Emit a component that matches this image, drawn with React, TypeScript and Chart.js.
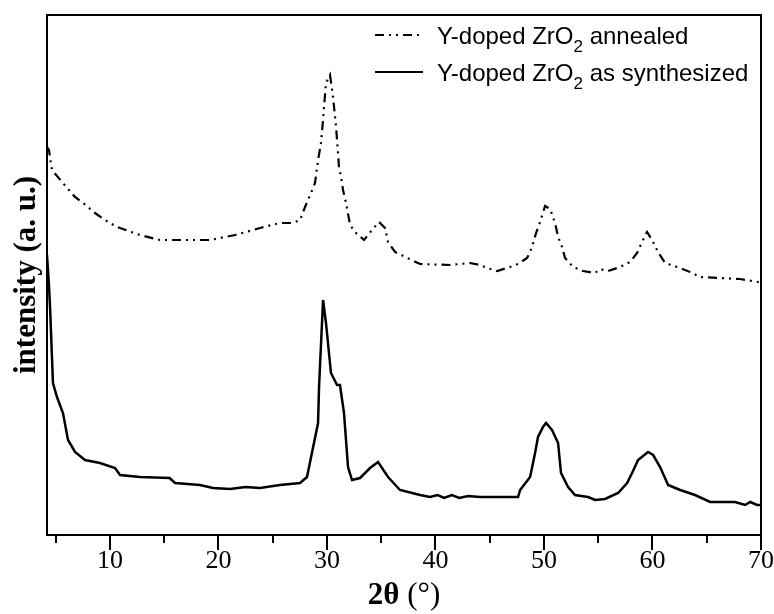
import { useEffect, useRef } from "react";
import { Chart, registerables } from "chart.js";

Chart.register(...registerables);

// ---- Data (2θ in degrees, intensity in arbitrary units) ----
const synthX = [4.2, 4.38, 4.48, 4.75, 5.12, 5.67, 6.14, 6.78, 7.7, 9.08, 10.47, 10.93, 12.77, 15.5, 16.0, 18.3, 19.5, 21.07, 22.5, 23.83, 25.67, 27.52, 28.16, 29.18, 29.27, 29.64, 29.91, 30.37, 30.93, 31.2, 31.57, 31.94, 32.31, 33.05, 33.97, 34.71, 35.63, 36.73, 38.58, 39.5, 40.2, 40.8, 41.5, 42.2, 43.0, 44.11, 45.5, 47.61, 47.8, 48.72, 49.18, 49.45, 49.91, 50.19, 50.74, 51.3, 51.57, 52.22, 52.86, 54.06, 54.71, 55.63, 56.83, 57.66, 58.12, 58.67, 59.59, 60.06, 60.7, 61.44, 62.55, 63.92, 65.31, 67.61, 68.53, 69.0, 69.64, 70.0];
const synthY = [280, 250, 228, 152, 138, 122, 95, 83, 75, 72, 67, 60, 58, 57, 52, 50, 47, 46, 48, 47, 50, 52, 58, 112, 148, 235, 212, 162, 150, 150, 122, 68, 55, 57, 67, 73, 58, 45, 40, 38, 40, 37, 40, 37, 39, 38, 38, 38, 45, 58, 82, 98, 108, 112, 105, 92, 62, 48, 40, 38, 35, 36, 42, 52, 62, 75, 83, 80, 68, 50, 45, 40, 33, 33, 30, 33, 30, 30];

const annealX = [4.2, 4.38, 4.66, 5.67, 6.78, 7.52, 8.62, 9.55, 10.65, 12.77, 14.61, 16.92, 19.22, 21.53, 23.83, 25.67, 26.87, 27.52, 27.98, 28.53, 28.9, 29.18, 29.45, 29.64, 29.73, 29.91, 30.28, 30.56, 30.84, 31.02, 31.11, 31.3, 31.48, 31.76, 32.13, 32.68, 33.42, 34.15, 34.8, 35.35, 35.63, 36.27, 38.58, 41.34, 43.19, 44.11, 44.75, 45.68, 46.87, 47.61, 48.44, 48.72, 49.0, 49.27, 49.64, 50.1, 50.56, 51.02, 51.3, 51.67, 51.94, 52.68, 53.6, 54.71, 55.17, 55.91, 57.01, 57.93, 58.58, 59.04, 59.5, 59.96, 60.51, 61.16, 62.27, 63.46, 64.38, 66.23, 68.07, 69.73, 70.0];
const annealY = [388, 385, 365, 352, 338, 332, 322, 315, 308, 300, 295, 295, 295, 300, 307, 312, 312, 315, 328, 342, 352, 375, 392, 415, 428, 452, 460, 438, 408, 382, 368, 358, 345, 332, 310, 302, 295, 305, 313, 307, 293, 283, 271, 270, 272, 270, 267, 264, 268, 271, 277, 283, 292, 302, 313, 329, 326, 312, 298, 288, 277, 268, 264, 262, 266, 264, 268, 273, 282, 293, 303, 295, 283, 272, 268, 263, 258, 257, 256, 253, 253];

const xTickLabels = [10, 20, 30, 40, 50, 60, 70];
const xMinorTicks = [5, 15, 25, 35, 45, 55, 65];
const seriesNames = ["annealed", "as synthesized"];
const legendPrefix = "Y-doped ZrO";
const legendSub = "2";
const xTitleBold = "2θ";
const xTitleRest = " (°)";
const yTitle = "intensity (a. u.)";

const ANNEAL_DASH = [9, 5, 2, 5, 2, 5];

const decorPlugin = {
  id: "decor",
  afterDraw(chart: any) {
    const { ctx, chartArea: a } = chart;
    const xs = chart.scales.x;
    ctx.save();
    ctx.strokeStyle = "#000";
    ctx.fillStyle = "#000";
    ctx.lineWidth = 2;
    ctx.setLineDash([]);
    // frame
    ctx.strokeRect(a.left, a.top, a.right - a.left, a.bottom - a.top);
    // ticks
    const all = [...xTickLabels, ...xMinorTicks];
    for (const v of all) {
      const px = Math.round(xs.getPixelForValue(v));
      const len = xTickLabels.includes(v) ? 15 : 8;
      ctx.beginPath();
      ctx.moveTo(px, a.bottom);
      ctx.lineTo(px, a.bottom + len);
      ctx.stroke();
    }
    // x title
    const cx = (a.left + a.right) / 2;
    const ty = 596;
    ctx.textBaseline = "middle";
    ctx.textAlign = "left";
    const fBold = "bold 31px 'Liberation Serif'";
    const fReg = "31px 'Liberation Serif'";
    ctx.font = fBold;
    const w1 = ctx.measureText(xTitleBold).width;
    ctx.font = fReg;
    const w2 = ctx.measureText(xTitleRest).width;
    const sx = cx - (w1 + w2) / 2;
    ctx.font = fBold;
    ctx.fillText(xTitleBold, sx, ty);
    ctx.font = fReg;
    ctx.fillText(xTitleRest, sx + w1, ty);
    // legend
    const rows = [
      { name: seriesNames[0], dash: ANNEAL_DASH, cy: 35 },
      { name: seriesNames[1], dash: [], cy: 72 },
    ];
    for (const r of rows) {
      ctx.setLineDash(r.dash);
      ctx.lineWidth = 2.2;
      ctx.beginPath();
      ctx.moveTo(375, r.cy);
      ctx.lineTo(423, r.cy);
      ctx.stroke();
      ctx.setLineDash([]);
      ctx.textBaseline = "alphabetic";
      const base = r.cy + 8.5;
      let x = 437;
      ctx.font = "24px 'Liberation Sans'";
      ctx.fillText(legendPrefix, x, base);
      x += ctx.measureText(legendPrefix).width;
      ctx.font = "17px 'Liberation Sans'";
      ctx.fillText(legendSub, x, base + 8.5);
      x += ctx.measureText(legendSub).width;
      ctx.font = "24px 'Liberation Sans'";
      ctx.fillText(" " + r.name, x, base);
    }
    ctx.restore();
  },
};

export default function App() {
  const ref = useRef<HTMLCanvasElement | null>(null);
  useEffect(() => {
    document.body.style.margin = "0";
    const canvas = ref.current;
    if (!canvas) return;
    const chart = new Chart(canvas, {
      type: "line",
      data: {
        datasets: [
          {
            label: seriesNames[0],
            data: annealX.map((x, i) => ({ x, y: annealY[i] })),
            borderColor: "#000",
            borderWidth: 2.2,
            borderDash: ANNEAL_DASH,
            pointRadius: 0,
            fill: false,
            tension: 0,
          },
          {
            label: seriesNames[1],
            data: synthX.map((x, i) => ({ x, y: synthY[i] })),
            borderColor: "#000",
            borderWidth: 2.5,
            pointRadius: 0,
            fill: false,
            tension: 0,
          },
        ],
      },
      options: {
        responsive: false,
        animation: false,
        layout: { padding: { top: 15, right: 0, left: 0, bottom: 0 } },
        plugins: { legend: { display: false }, tooltip: { enabled: false } },
        scales: {
          x: {
            type: "linear",
            min: 4.2,
            max: 70,
            afterBuildTicks: (s: any) => {
              s.ticks = xTickLabels.map((v) => ({ value: v }));
            },
            afterFit: (s: any) => {
              s.height = 79;
              s.paddingRight = 13;
              s.paddingLeft = 0;
            },
            grid: { display: false, drawTicks: false },
            border: { display: false },
            ticks: {
              padding: 11,
              color: "#000",
              autoSkip: false,
              maxRotation: 0,
              font: { family: "'Liberation Serif'", size: 26 },
            },
          },
          y: {
            min: 0,
            max: 520,
            afterFit: (s: any) => {
              s.width = 47;
            },
            grid: { display: false, drawTicks: false },
            border: { display: false },
            ticks: { display: false },
            title: {
              display: true,
              text: yTitle,
              color: "#000",
              font: { family: "'Liberation Serif'", size: 31, weight: "bold" },
              padding: { top: 8, bottom: 0 },
            },
          },
        },
      },
      plugins: [decorPlugin],
    } as any);
    return () => chart.destroy();
  }, []);
  return <canvas ref={ref} width={774} height={614} style={{ display: "block" }} />;
}
